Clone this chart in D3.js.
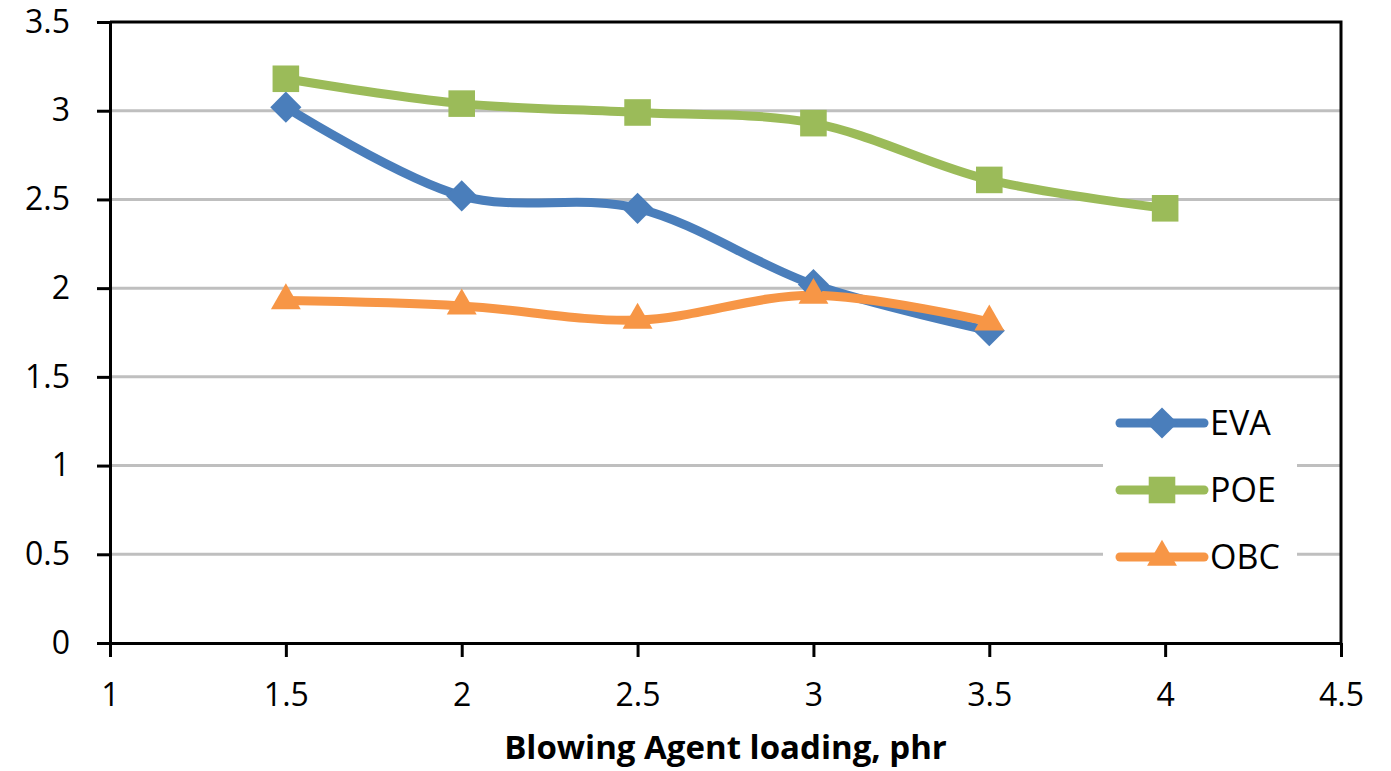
<!DOCTYPE html>
<html>
<head>
<meta charset="utf-8">
<script src="https://cdn.jsdelivr.net/npm/d3@7"></script>
<style>
  body { margin: 0; background: #fff; }
  text { font-family: 'Open Sans', 'Noto Sans', sans-serif; }
</style>
</head>
<body>
<div id="chart"></div>
<script>
const loadings = [1.5, 2, 2.5, 3, 3.5, 4]
const evaValues = [3.02, 2.52, 2.45, 2.02, 1.76]
const poeValues = [3.18, 3.04, 2.99, 2.93, 2.61, 2.45]
const obcValues = [1.93, 1.90, 1.82, 1.96, 1.81]
const xTicks = [1, 1.5, 2, 2.5, 3, 3.5, 4, 4.5]
const yTicks = [0, 0.5, 1, 1.5, 2, 2.5, 3, 3.5]
const seriesNames = ['EVA', 'POE', 'OBC']

const series = [
  {name: 'EVA', values: evaValues, color: '#4a7ebb', symbol: d3.symbolDiamond2},
  {name: 'POE', values: poeValues, color: '#9bbb59', symbol: d3.symbolSquare2},
  {name: 'OBC', values: obcValues, color: '#f79646', symbol: d3.symbolTriangle2}
]

const width = 1391
const height = 771
const margin = {top: 22, right: 50, bottom: 128, left: 110}
const w = width - margin.left - margin.right
const h = height - margin.top - margin.bottom

const svg = d3.select('#chart').append('svg')
  .attr('width', width)
  .attr('height', height)

const g = svg.append('g')
  .attr('transform', 'translate(' + margin.left + ',' + margin.top + ')')

const x = d3.scaleLinear().domain([1, 4.5]).range([0, w])
const y = d3.scaleLinear().domain([0, 3.5]).range([h, 0])

// gridlines
g.append('g')
  .selectAll('line')
  .data(yTicks.slice(1, -1))
  .join('line')
  .attr('x1', 0)
  .attr('x2', w)
  .attr('y1', d => y(d))
  .attr('y2', d => y(d))
  .attr('stroke', '#bfbfbf')
  .attr('stroke-width', 3)

// top and right border
g.append('path')
  .attr('d', 'M0,' + y(3.5) + 'H' + x(4.5) + 'V' + y(0))
  .attr('fill', 'none')
  .attr('stroke', '#000')
  .attr('stroke-width', 3)

const xAxis = d3.axisBottom(x).tickValues(xTicks).tickSize(14).tickSizeOuter(0)
  .tickFormat(d3.format('~g'))
const yAxis = d3.axisLeft(y).tickValues(yTicks).tickSize(13).tickSizeOuter(0)
  .tickFormat(d3.format('~g'))

const gx = g.append('g')
  .attr('transform', 'translate(0,' + h + ')')
  .call(xAxis)
gx.selectAll('text').attr('font-size', 32).attr('dy', '1.45em')
  .attr('font-family', "'Open Sans', sans-serif").attr('fill', '#000')

const gy = g.append('g').call(yAxis)
gy.selectAll('text').attr('font-size', 32).attr('x', -40)
  .attr('font-family', "'Open Sans', sans-serif").attr('fill', '#000')

svg.selectAll('.domain, .tick line')
  .attr('stroke', '#000')
  .attr('stroke-width', 3)

const line = d3.line()
  .x((d, i) => x(loadings[i]))
  .y(d => y(d))
  .curve(d3.curveCatmullRom.alpha(0.5))

series.forEach(s => {
  g.append('path')
    .datum(s.values)
    .attr('fill', 'none')
    .attr('stroke', s.color)
    .attr('stroke-width', 9)
    .attr('stroke-linecap', 'round')
    .attr('d', line)
})

const symbolSizes = {EVA: 620, POE: 900, OBC: 640}
series.forEach(s => {
  g.append('g')
    .selectAll('path')
    .data(s.values)
    .join('path')
    .attr('transform', (d, i) => 'translate(' + x(loadings[i]) + ',' + y(d) + ')')
    .attr('d', d3.symbol(s.symbol, symbolSizes[s.name]))
    .attr('fill', s.color)
})

// legend
const legend = g.append('g').attr('transform', 'translate(' + (x(4.5) - 238) + ',' + 378 + ')')
legend.append('rect')
  .attr('x', 0).attr('y', 0)
  .attr('width', 194).attr('height', 180)
  .attr('fill', '#fff')

seriesNames.forEach((name, i) => {
  const s = series.find(d => d.name === name)
  const ly = 23 + i * 67
  legend.append('line')
    .attr('x1', 17).attr('x2', 101)
    .attr('y1', ly).attr('y2', ly)
    .attr('stroke', s.color)
    .attr('stroke-width', 9)
    .attr('stroke-linecap', 'round')
  legend.append('path')
    .attr('transform', 'translate(59,' + ly + ')')
    .attr('d', d3.symbol(s.symbol, symbolSizes[name])())
    .attr('fill', s.color)
  legend.append('text')
    .attr('x', 107).attr('y', ly)
    .attr('dy', '0.36em')
    .attr('font-size', 34)
    .attr('fill', '#000')
    .text(name)
})

svg.append('text')
  .attr('x', margin.left + w / 2)
  .attr('y', 759)
  .attr('text-anchor', 'middle')
  .attr('font-size', 33)
  .attr('font-weight', 'bold')
  .attr('fill', '#000')
  .text('Blowing Agent loading, phr')
</script>
</body>
</html>
